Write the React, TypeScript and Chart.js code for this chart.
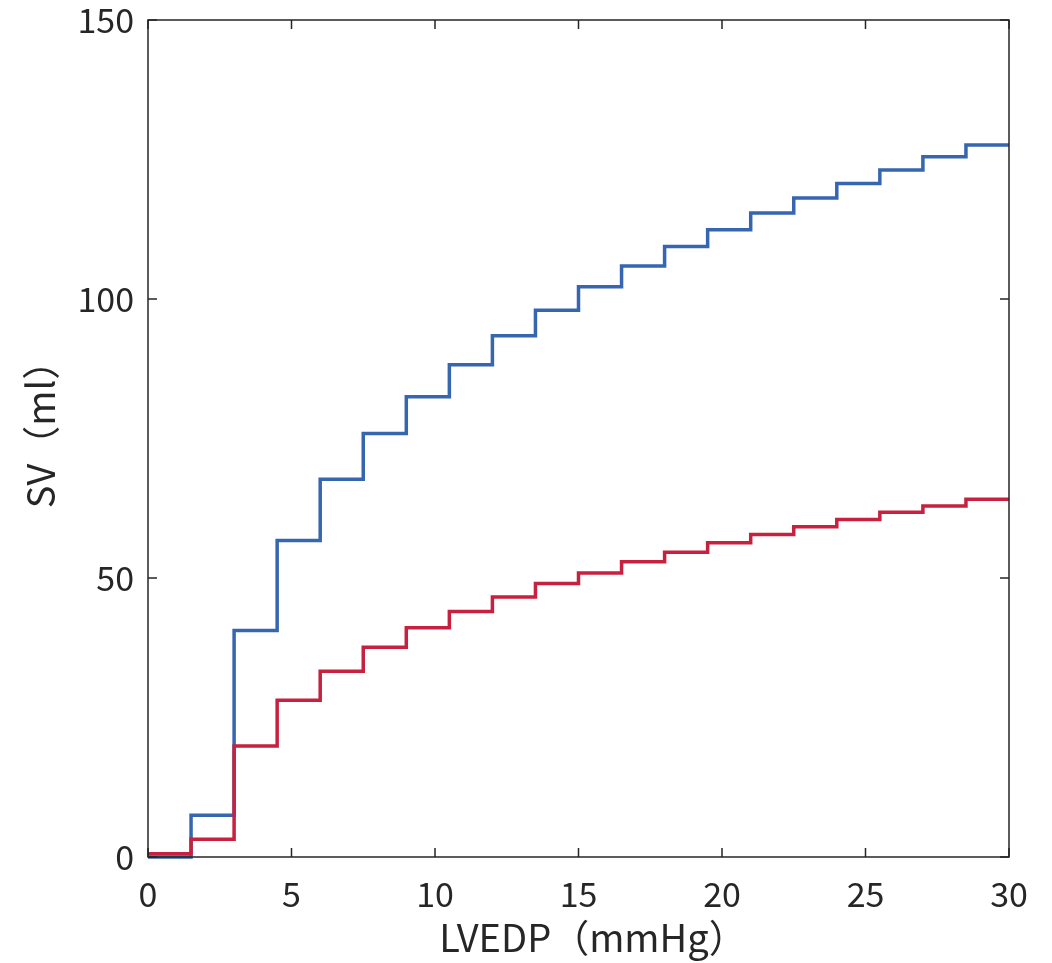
import React, { useEffect, useRef } from "react";
import { Chart, registerables } from "chart.js";

Chart.register(...registerables);

const pressure = [0, 1.5, 3, 4.5, 6, 7.5, 9, 10.5, 12, 13.5, 15, 16.5, 18, 19.5, 21, 22.5, 24, 25.5, 27, 28.5, 30];
const svBlue = [0, 7.5, 40.6, 56.7, 67.7, 75.9, 82.5, 88.2, 93.4, 98.0, 102.2, 105.9, 109.4, 112.4, 115.4, 118.1, 120.7, 123.1, 125.5, 127.6, 127.6];
const svRed = [0.6, 3.2, 19.9, 28.1, 33.3, 37.6, 41.1, 44.0, 46.6, 49.0, 50.9, 52.9, 54.6, 56.3, 57.8, 59.2, 60.5, 61.8, 62.9, 64.1, 64.1];
const xTicks = [0, 5, 10, 15, 20, 25, 30];
const yTicks = [0, 50, 100, 150];
const xTitle = "LVEDP（mmHg）";
const yTitle = "SV（ml）";

const FONT = '"Noto Sans CJK JP", "Noto Sans", sans-serif';
const TEXT = "#262626";

const framePlugin = {
  id: "frame",
  afterDatasetsDraw(chart: any) {
    const { ctx, chartArea, scales } = chart;
    const { left, right, top, bottom } = chartArea;
    const x = scales.x;
    const y = scales.y;
    const tl = 9;
    ctx.save();
    ctx.strokeStyle = TEXT;
    ctx.lineWidth = 1.5;
    ctx.strokeRect(left, top, right - left, bottom - top);
    ctx.beginPath();
    xTicks.forEach((v) => {
      const px = x.getPixelForValue(v);
      ctx.moveTo(px, bottom);
      ctx.lineTo(px, bottom - tl);
      ctx.moveTo(px, top);
      ctx.lineTo(px, top + tl);
    });
    yTicks.forEach((v) => {
      const py = y.getPixelForValue(v);
      ctx.moveTo(left, py);
      ctx.lineTo(left + tl, py);
      ctx.moveTo(right, py);
      ctx.lineTo(right - tl, py);
    });
    ctx.stroke();

    // axis titles, ink-centred on the plot area
    ctx.fillStyle = TEXT;
    ctx.font = `38px ${FONT}`;
    ctx.textAlign = "left";
    ctx.textBaseline = "alphabetic";
    const cx = (left + right) / 2 + 3;
    const mx = ctx.measureText(xTitle);
    const x0 = cx - (mx.actualBoundingBoxRight - mx.actualBoundingBoxLeft) / 2;
    ctx.fillText(xTitle, x0, 952);

    const cy = (top + bottom) / 2 - 1;
    const my = ctx.measureText(yTitle);
    const off = (my.actualBoundingBoxRight - my.actualBoundingBoxLeft) / 2;
    ctx.translate(55, cy);
    ctx.rotate(-Math.PI / 2);
    ctx.fillText(yTitle, -off, 0);
    ctx.restore();
  },
};

export default function App() {
  const ref = useRef<HTMLCanvasElement | null>(null);

  useEffect(() => {
    if (!ref.current) return;
    const chart = new Chart(ref.current, {
      type: "line",
      data: {
        datasets: [
          {
            label: "red",
            data: pressure.map((p, i) => ({ x: p, y: svRed[i] })),
            borderColor: "#c8203f",
            borderWidth: 3.5,
            pointRadius: 0,
            stepped: "before",
            fill: false,
            clip: false as any,
          },
          {
            label: "blue",
            data: pressure.map((p, i) => ({ x: p, y: svBlue[i] })),
            borderColor: "#3766b0",
            borderWidth: 3.5,
            pointRadius: 0,
            stepped: "before",
            fill: false,
            clip: false as any,
          },
        ],
      },
      options: {
        responsive: false,
        animation: false,
        layout: { padding: { top: 20, right: 43, bottom: 0, left: 0 } },
        plugins: { legend: { display: false }, tooltip: { enabled: false } },
        scales: {
          x: {
            type: "linear",
            min: 0,
            max: 30,
            afterFit: (s: any) => {
              s.height = 106;
              s.paddingLeft = 0;
              s.paddingRight = 0;
            },
            afterBuildTicks: (s: any) => {
              s.ticks = xTicks.map((v) => ({ value: v }));
            },
            grid: { display: false, drawTicks: false },
            border: { display: false },
            ticks: {
              padding: 20,
              color: TEXT,
              font: { family: FONT, size: 34, lineHeight: 1 },
              maxRotation: 0,
            },
            title: { display: false, text: xTitle },
          },
          y: {
            type: "linear",
            min: 0,
            max: 150,
            afterFit: (s: any) => {
              s.width = 148;
              s.paddingTop = 0;
              s.paddingBottom = 0;
            },
            afterBuildTicks: (s: any) => {
              s.ticks = yTicks.map((v) => ({ value: v }));
            },
            grid: { display: false, drawTicks: false },
            border: { display: false },
            ticks: {
              padding: 14,
              color: TEXT,
              font: { family: FONT, size: 34, lineHeight: 1 },
            },
            title: { display: false, text: yTitle },
          },
        },
      },
      plugins: [framePlugin],
    });
    return () => chart.destroy();
  }, []);

  return (
    <div style={{ position: "absolute", left: 0, top: 0, width: 1052, height: 963, background: "#fff" }}>
      <canvas ref={ref} width={1052} height={963} style={{ display: "block" }} />
    </div>
  );
}
